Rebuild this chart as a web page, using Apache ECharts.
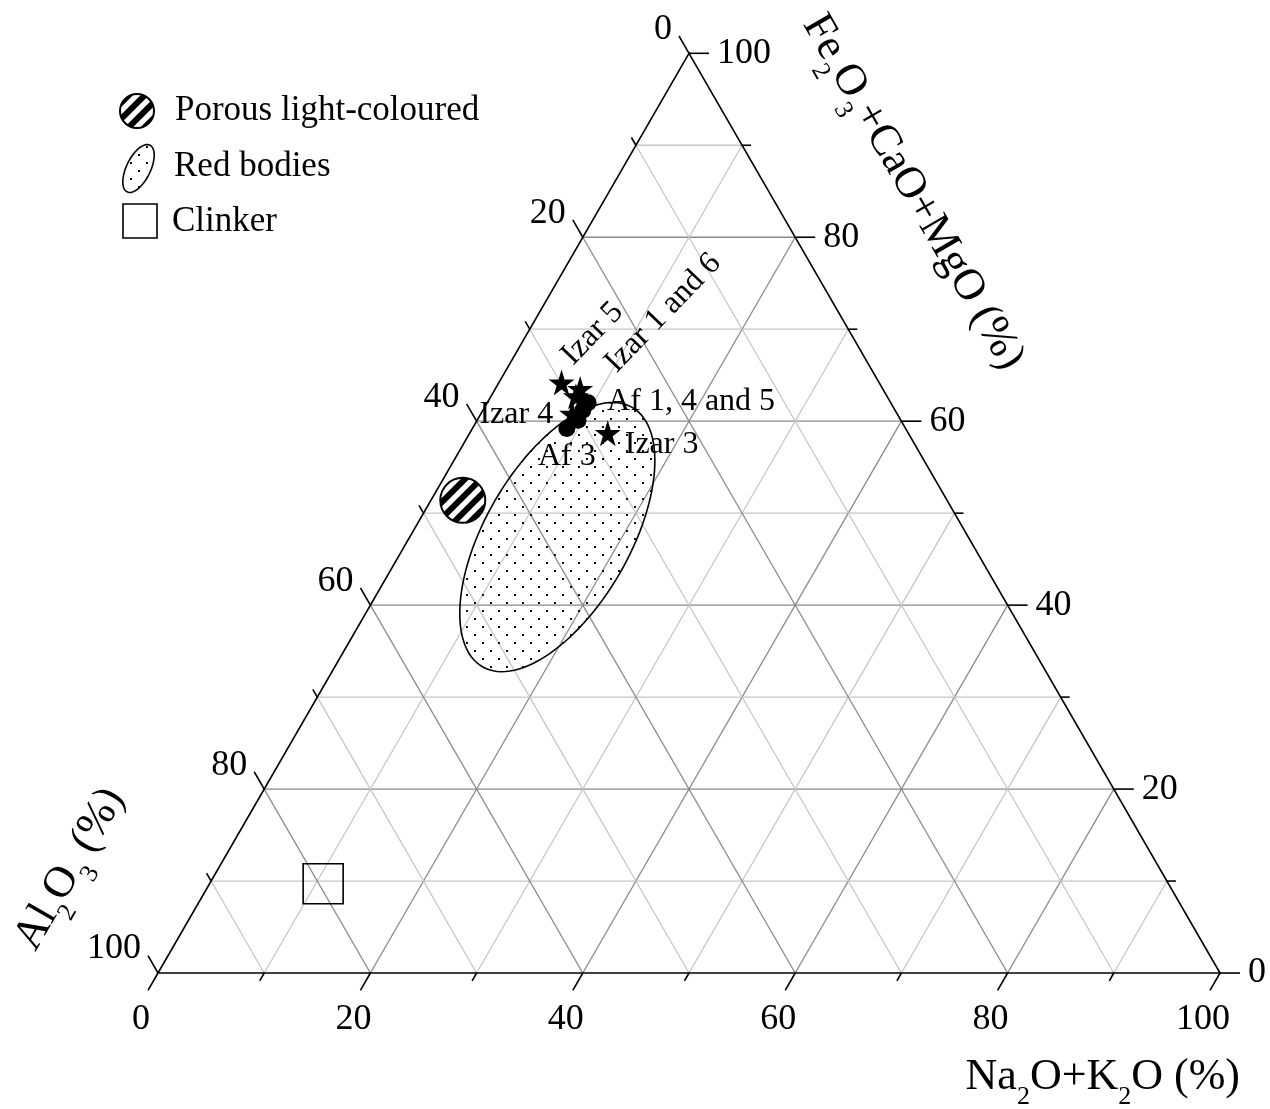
<!DOCTYPE html>
<html>
<head>
<meta charset="utf-8">
<script src="https://cdn.jsdelivr.net/npm/echarts@6/dist/echarts.min.js"></script>
<style>
  html, body { margin: 0; padding: 0; background: #fff; }
  #chart { width: 1270px; height: 1109px; }
</style>
</head>
<body>
<div id="chart"></div>
<script>
// Ternary axes: tick positions, labelled ticks and internal grid lines (percent)
const tickValues = [0, 10, 20, 30, 40, 50, 60, 70, 80, 90, 100];
const labelValues = [0, 20, 40, 60, 80, 100];
const gridValues = [10, 20, 30, 40, 50, 60, 70, 80, 90];

// Compositions as [Na2O+K2O, Fe2O3+CaO+MgO, Al2O3] in %
const izarNames = ['Izar 5', 'Izar 1', 'Izar 6', 'Izar 4', 'Izar 3'];
const izarValues = [
  [5.9, 64.2, 29.9],
  [8.0, 63.5, 28.5],
  [8.0, 62.7, 29.3],
  [8.6, 60.8, 30.6],
  [13.0, 58.7, 28.3]
];
const afNames = ['Af 1', 'Af 4', 'Af 5', 'Af 3'];
const afValues = [
  [9.5, 62.0, 28.5],
  [9.4, 61.2, 29.4],
  [9.5, 60.1, 30.4],
  [8.9, 59.2, 31.9]
];
const porousValue = [3.0, 51.4, 45.6];
const clinkerValue = [10.7, 9.7, 79.6];
// Red bodies field: centre, and half-lengths of its long / short axes (in %)
const redCentre = [13.9, 47.4, 38.7];
const redSemiAxes = [14.1, 6.8];

const FONT = 'Liberation Serif, Times New Roman, serif';
const SQ = Math.sqrt(3) / 2;

// ternary [N, F, A] -> cartesian data coordinates of an equilateral triangle
function toXY(t) { return [t[0] + t[1] / 2, t[1] * SQ]; }

function ellipsePoints(cx, cy, a, b, angDeg, n) {
  const th = angDeg * Math.PI / 180;
  const ux = Math.cos(th), uy = -Math.sin(th);
  const vx = Math.sin(th), vy = Math.cos(th);
  const pts = [];
  for (let i = 0; i < n; i++) {
    const t = 2 * Math.PI * i / n;
    const c = Math.cos(t) * a, s = Math.sin(t) * b;
    pts.push([cx + c * ux + s * vx, cy + c * uy + s * vy]);
  }
  return pts;
}

// label offsets are applied in the rotated text frame: turn a screen offset into it
function rotatedOffset(dx, dy, deg) {
  const r = deg * Math.PI / 180, c = Math.cos(r), s = Math.sin(r);
  return [dx * c - dy * s, dx * s + dy * c];
}

// fill patterns
function dotPattern() {
  const c = document.createElement('canvas');
  c.width = 16; c.height = 16;
  const g = c.getContext('2d');
  g.fillStyle = '#111';
  g.fillRect(2, 2, 2, 2);
  g.fillRect(10, 10, 2, 2);
  return { image: c, repeat: 'repeat' };
}
function hatchPattern() {
  const n = 16;
  const c = document.createElement('canvas');
  c.width = n; c.height = n;
  const g = c.getContext('2d');
  g.fillStyle = '#fff';
  g.fillRect(0, 0, n, n);
  g.strokeStyle = '#000';
  g.lineWidth = 6;
  g.lineCap = 'square';
  [-n, 0, n].forEach(function (o) {
    g.beginPath(); g.moveTo(o - 4, n + 4); g.lineTo(o + n + 4, -4); g.stroke();
  });
  return { image: c, repeat: 'repeat' };
}
const DOTS = dotPattern();
const HATCH = hatchPattern();

// grid lines: family 0 = constant F, 1 = constant N, 2 = constant A
const gridData = [];
[0, 1, 2].forEach(function (f) { gridValues.forEach(function (v) { gridData.push([f, v]); }); });
// ticks: axis 0 = bottom (N), 1 = right (F), 2 = left (A)
const tickData = [];
[0, 1, 2].forEach(function (f) { tickValues.forEach(function (v) { tickData.push([f, v]); }); });
const tickLabelData = [];
[0, 1, 2].forEach(function (f) { labelValues.forEach(function (v) { tickLabelData.push([f, v]); }); });

function axisPoint(axis, v) {
  if (axis === 0) return [v, 0, 100 - v];
  if (axis === 1) return [100 - v, v, 0];
  return [0, 100 - v, v];
}

const STAR = 'path://M50 0 L61.2 35.5 L98.5 35.5 L68.3 57.4 L79.4 92.7 L50 71 L20.6 92.7 L31.7 57.4 L1.5 35.5 L38.8 35.5 Z';

const pointLabels = {
  'Izar 5': { formatter: 'Izar 5', offset: rotatedOffset(31, -49, 46), rotate: 46 },
  'Izar 1': { formatter: 'Izar 1 and 6', offset: rotatedOffset(83, -76, 46), rotate: 46 },
  'Izar 4': { formatter: 'Izar 4', offset: [-19, 1], align: 'right' },
  'Izar 3': { formatter: 'Izar 3', offset: [17, 11], align: 'left' },
  'Af 1': { formatter: 'Af 1, 4 and 5', offset: [19, -1], align: 'left' },
  'Af 3': { formatter: 'Af 3', offset: [0, 28] }
};
function pointItems(names, values) {
  return names.map(function (n, i) {
    const lab = pointLabels[n];
    return {
      name: n,
      value: toXY(values[i]),
      label: lab ? Object.assign({
        show: true, position: 'inside', color: '#000', opacity: 1,
        fontFamily: FONT, fontSize: 32, align: 'center', verticalAlign: 'middle'
      }, lab) : { show: false }
    };
  });
}

const richTitle = {
  m: { fontFamily: FONT, fontSize: 44, color: '#000', lineHeight: 66 },
  s: { fontFamily: FONT, fontSize: 26, color: '#000', lineHeight: 26, verticalAlign: 'bottom' }
};

const chart = echarts.init(document.getElementById('chart'), null, { renderer: 'canvas' });

chart.setOption({
  animation: false,
  backgroundColor: '#fff',
  grid: { left: 158, top: 53.3, width: 1062, height: 1062 * SQ, show: false },
  xAxis: { type: 'value', min: 0, max: 100, show: false },
  yAxis: { type: 'value', min: 0, max: 100 * SQ, show: false },
  series: [
    {
      name: 'grid', type: 'custom', z: 1, clip: false, silent: true,
      data: gridData,
      renderItem: function (params, api) {
        const f = api.value(0), v = api.value(1);
        let t1, t2;
        if (f === 0) { t1 = [0, v, 100 - v]; t2 = [100 - v, v, 0]; }
        else if (f === 1) { t1 = [v, 0, 100 - v]; t2 = [v, 100 - v, 0]; }
        else { t1 = [0, 100 - v, v]; t2 = [100 - v, 0, v]; }
        const a = api.coord(toXY(t1)), b = api.coord(toXY(t2));
        return {
          type: 'line',
          shape: { x1: a[0], y1: a[1], x2: b[0], y2: b[1] },
          style: { stroke: v % 20 === 0 ? '#8a8a8a' : '#c6c6c6', lineWidth: 1.3 }
        };
      }
    },
    {
      name: 'Red bodies', type: 'custom', z: 2, clip: false, silent: true,
      data: [toXY(redCentre)],
      renderItem: function (params, api) {
        const c = api.coord([api.value(0), api.value(1)]);
        const unit = api.size([1, 0])[0];
        const pts = ellipsePoints(c[0], c[1], redSemiAxes[0] * unit, redSemiAxes[1] * unit, 60, 120);
        return {
          type: 'polygon', shape: { points: pts },
          style: { fill: DOTS, stroke: '#000', lineWidth: 1.6 }
        };
      }
    },
    {
      name: 'frame', type: 'custom', z: 3, clip: false, silent: true,
      data: [[0]],
      renderItem: function (params, api) {
        const pts = [[0, 0, 100], [100, 0, 0], [0, 100, 0]].map(function (t) { return api.coord(toXY(t)); });
        return {
          type: 'polygon', shape: { points: pts },
          style: { fill: 'none', stroke: '#000', lineWidth: 1.6 }
        };
      }
    },
    {
      name: 'ticks', type: 'custom', z: 3, clip: false, silent: true,
      data: tickData,
      renderItem: function (params, api) {
        const axis = api.value(0), v = api.value(1);
        const d = axis === 0 ? [-0.5, SQ] : (axis === 1 ? [1, 0] : [-0.5, -SQ]);
        const p = api.coord(toXY(axisPoint(axis, v)));
        const len = v % 20 === 0 ? 20 : 9;
        return {
          type: 'line',
          shape: { x1: p[0], y1: p[1], x2: p[0] + d[0] * len, y2: p[1] + d[1] * len },
          style: { stroke: '#000', lineWidth: 1.6 }
        };
      }
    },
    {
      name: 'tickLabels', type: 'custom', z: 3, clip: false, silent: true,
      data: tickLabelData,
      renderItem: function (params, api) {
        const axis = api.value(0), v = api.value(1);
        const p = api.coord(toXY(axisPoint(axis, v)));
        let x, y, align;
        if (axis === 0) { x = p[0] - 17; y = p[1] + 47; align = 'center'; }
        else if (axis === 1) { x = p[0] + 28; y = p[1]; align = 'left'; }
        else { x = p[0] - 17; y = p[1] - 24; align = 'right'; }
        return {
          type: 'text', x: x, y: y,
          style: {
            text: String(v), fill: '#000', fontFamily: FONT, fontSize: 36,
            align: align, verticalAlign: 'middle'
          }
        };
      }
    },
    {
      name: 'Clinker', type: 'scatter', z: 4, clip: false,
      symbol: 'rect', symbolSize: 40,
      itemStyle: { color: 'rgba(255,255,255,0)', borderColor: '#000', borderWidth: 1.6, opacity: 1 },
      data: [toXY(clinkerValue)]
    },
    {
      name: 'Porous light-coloured', type: 'custom', z: 4, clip: false, silent: true,
      data: [toXY(porousValue)],
      renderItem: function (params, api) {
        const c = api.coord([api.value(0), api.value(1)]);
        return {
          type: 'circle', shape: { cx: c[0], cy: c[1], r: 22.5 },
          style: { fill: HATCH, stroke: '#000', lineWidth: 2 }
        };
      }
    },
    {
      name: 'Af', type: 'scatter', z: 5, clip: false,
      symbol: 'circle', symbolSize: 17,
      itemStyle: { color: '#000', opacity: 1 },
      data: pointItems(afNames, afValues)
    },
    {
      name: 'Izar', type: 'scatter', z: 6, clip: false,
      symbol: STAR, symbolSize: 26,
      itemStyle: { color: '#000', opacity: 1 },
      data: pointItems(izarNames, izarValues)
    }
  ],
  graphic: [
    // legend
    { type: 'circle', shape: { cx: 137, cy: 111, r: 17 },
      style: { fill: HATCH, stroke: '#000', lineWidth: 2 } },
    { type: 'polygon', shape: { points: ellipsePoints(138.5, 168.5, 26, 12, 64, 60) },
      style: { fill: DOTS, stroke: '#000', lineWidth: 1.6 } },
    { type: 'rect', shape: { x: 123, y: 204, width: 34, height: 34 },
      style: { fill: '#fff', stroke: '#000', lineWidth: 1.6 } },
    { type: 'text', x: 175, y: 111,
      style: { text: 'Porous light-coloured', fill: '#000', fontFamily: FONT, fontSize: 35, align: 'left', verticalAlign: 'middle' } },
    { type: 'text', x: 174, y: 167,
      style: { text: 'Red bodies', fill: '#000', fontFamily: FONT, fontSize: 35, align: 'left', verticalAlign: 'middle' } },
    { type: 'text', x: 172, y: 222,
      style: { text: 'Clinker', fill: '#000', fontFamily: FONT, fontSize: 35, align: 'left', verticalAlign: 'middle' } },
    // axis titles
    { type: 'text', x: 1240, y: 1077,
      style: { text: '{m|Na}{s|2}{m|O+K}{s|2}{m|O (%)}', rich: richTitle, align: 'right', verticalAlign: 'middle' } },
    { type: 'text', x: 913, y: 192, rotation: -Math.PI / 3,
      style: { text: '{m|Fe}{s|2}{m|O}{s|3}{m|+CaO+MgO (%)}', rich: richTitle, align: 'center', verticalAlign: 'middle' } },
    { type: 'text', x: 70, y: 869, rotation: Math.PI / 3,
      style: { text: '{m|Al}{s|2}{m|O}{s|3}{m| (%)}', rich: richTitle, align: 'center', verticalAlign: 'middle' } }
  ]
});
</script>
</body>
</html>
